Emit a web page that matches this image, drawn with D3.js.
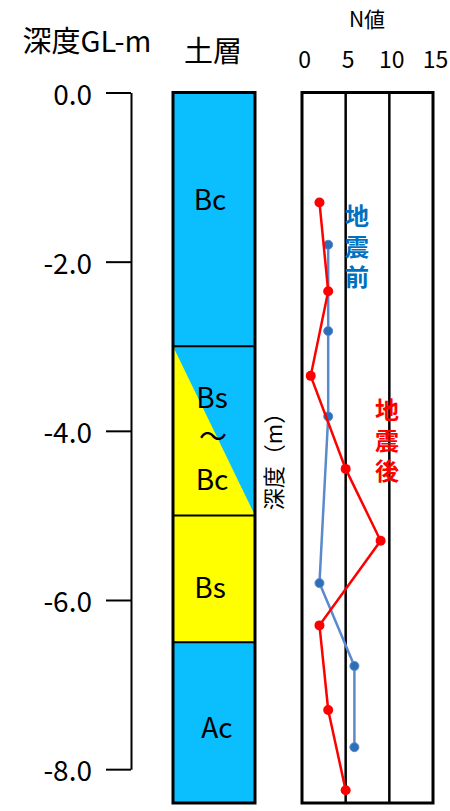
<!DOCTYPE html>
<html>
<head>
<meta charset="utf-8">
<script src="https://cdn.jsdelivr.net/npm/d3@7"></script>
<style>
  body { margin: 0; background: #fff; }
  svg { display: block; }
  text { font-family: "Noto Sans CJK JP", "Noto Sans", sans-serif; fill: #000; }
</style>
</head>
<body>
<svg id="chart" width="450" height="811"></svg>
<script>
// Depth axis ticks (GL-m)
const depthTicks = [0, -2, -4, -6, -8];
// N-value axis ticks
const nTicks = [0, 5, 10, 15];

// Soil layers: name, top and bottom depth (m)
const layerNames = ["Bc", "Bs～Bc", "Bs", "Ac"];
const layerTop = [0, 3.0, 5.0, 6.5];
const layerBottom = [3.0, 5.0, 6.5, 8.4];

// N values after the earthquake
const afterDepth = [1.3, 2.35, 3.35, 4.45, 5.3, 6.3, 7.3, 8.25];
const afterN = [2, 3, 1, 5, 9, 2, 3, 5];

// N values before the earthquake
const beforeDepth = [1.8, 2.82, 3.83, 5.8, 6.78, 7.74];
const beforeN = [3, 3, 3, 2, 6, 6];

const svg = d3.select("#chart");
const maxDepth = d3.max(layerBottom);

const y = d3.scaleLinear().domain([0, maxDepth]).range([92.5, 803]);

// ---- Depth axis ----
const yAxisScale = d3.scaleLinear().domain([0, -8]).range([y(0), y(8)]);
const yAxis = svg.append("g")
  .attr("transform", "translate(131,0)")
  .call(d3.axisLeft(yAxisScale)
    .tickValues(depthTicks)
    .tickSize(25)
    .tickSizeOuter(0)
    .tickPadding(14)
    .tickFormat(d => d.toFixed(1)));
yAxis.selectAll("path, line").attr("stroke", "#000").attr("stroke-width", 2);
yAxis.selectAll("text").attr("font-size", 28).attr("fill", "#000")
  .attr("font-family", "'Noto Sans CJK JP', sans-serif").attr("dy", "0.42em");

svg.append("text").attr("x", 87).attr("y", 52).attr("text-anchor", "middle")
  .attr("font-size", 29).text("深度GL-m");

// ---- Soil column ----
const colX0 = 173, colX1 = 255;
const soil = svg.append("g");
const blue = "#0BBFFF", yellow = "#FFFF00";

layerNames.forEach((name, i) => {
  const y0 = y(layerTop[i]), y1 = y(layerBottom[i]);
  if (name === "Bs～Bc") {
    soil.append("rect").attr("x", colX0).attr("y", y0).attr("width", colX1 - colX0)
      .attr("height", y1 - y0).attr("fill", yellow);
    soil.append("path")
      .attr("d", `M${colX0},${y0}L${colX1},${y0}L${colX1},${y1}Z`)
      .attr("fill", blue);
  } else {
    soil.append("rect").attr("x", colX0).attr("y", y0).attr("width", colX1 - colX0)
      .attr("height", y1 - y0).attr("fill", name === "Bs" ? yellow : blue);
  }
});
// layer boundaries
layerTop.slice(1).forEach(d => {
  soil.append("line").attr("x1", colX0).attr("x2", colX1)
    .attr("y1", y(d)).attr("y2", y(d)).attr("stroke", "#000").attr("stroke-width", 2);
});
soil.append("rect").attr("x", colX0).attr("y", y(0)).attr("width", colX1 - colX0)
  .attr("height", y(maxDepth) - y(0)).attr("fill", "none")
  .attr("stroke", "#000").attr("stroke-width", 3);

// layer labels
const labelSpecs = [
  { t: "Bc", x: 210, d: 1.27 },
  { t: "Bs", x: 212, d: 3.61 },
  { t: "～", x: 213, d: 4.07 },
  { t: "Bc", x: 212, d: 4.58 },
  { t: "Bs", x: 210, d: 5.86 },
  { t: "Ac", x: 217, d: 7.51 }
];
soil.selectAll("text.layer").data(labelSpecs).join("text")
  .attr("class", "layer")
  .attr("x", d => d.x).attr("y", d => y(d.d)).attr("dy", "0.36em")
  .attr("text-anchor", "middle").attr("font-size", 28).text(d => d.t);

svg.append("text").attr("x", 213).attr("y", 62).attr("text-anchor", "middle")
  .attr("font-size", 29).text("土層");

// rotated depth label
svg.append("text")
  .attr("transform", "translate(274,456) rotate(-90)")
  .attr("dy", "0.38em")
  .attr("text-anchor", "middle").attr("font-size", 22).text("深度（m）");

// ---- N-value panel ----
const x = d3.scaleLinear().domain([0, 15]).range([302, 433]);
const panel = svg.append("g");

panel.selectAll("line.grid").data(nTicks.slice(1, -1)).join("line")
  .attr("class", "grid")
  .attr("x1", d => x(d)).attr("x2", d => x(d))
  .attr("y1", y(0)).attr("y2", y(maxDepth))
  .attr("stroke", "#000").attr("stroke-width", 2.5);
panel.append("rect").attr("x", x(0)).attr("y", y(0))
  .attr("width", x(15) - x(0)).attr("height", y(maxDepth) - y(0))
  .attr("fill", "none").attr("stroke", "#000").attr("stroke-width", 3);

const xAxis = svg.append("g")
  .attr("transform", `translate(2,${y(0)})`)
  .call(d3.axisTop(x).tickValues(nTicks).tickSize(0).tickPadding(25));
xAxis.select(".domain").remove();
xAxis.selectAll("text").attr("font-size", 23).attr("fill", "#000")
  .attr("font-family", "'Noto Sans CJK JP', sans-serif");

svg.append("text").attr("x", 367).attr("y", 27).attr("text-anchor", "middle")
  .attr("font-size", 21).text("N値");

const line = d3.line().x(d => x(d[0])).y(d => y(d[1]));

// before the earthquake
const beforePts = beforeN.map((n, i) => [n, beforeDepth[i]]);
panel.append("path").attr("d", line(beforePts)).attr("fill", "none")
  .attr("stroke", "#5A8ACB").attr("stroke-width", 2.5);
panel.selectAll("circle.before").data(beforePts).join("circle")
  .attr("class", "before")
  .attr("cx", d => x(d[0])).attr("cy", d => y(d[1])).attr("r", 4.5)
  .attr("fill", "#2C6FB8").attr("stroke", "#5A8ACB").attr("stroke-width", 1);

// after the earthquake
const afterPts = afterN.map((n, i) => [n, afterDepth[i]]);
panel.append("path").attr("d", line(afterPts)).attr("fill", "none")
  .attr("stroke", "#FF0000").attr("stroke-width", 2.5);
panel.selectAll("circle.after").data(afterPts).join("circle")
  .attr("class", "after")
  .attr("cx", d => x(d[0])).attr("cy", d => y(d[1])).attr("r", 5)
  .attr("fill", "#FF0000");

// vertical series labels, set in vertical writing mode
function verticalLabel(str, cx, top, color) {
  svg.append("text")
    .attr("x", cx).attr("y", top)
    .style("writing-mode", "vertical-rl")
    .style("letter-spacing", "6.5px")
    .attr("font-size", 24).attr("font-weight", "bold")
    .style("fill", color)
    .text(str);
}
verticalLabel("地震前", 357, 204, "#0070C0");
verticalLabel("地震後", 387, 398, "#FF0000");
</script>
</body>
</html>
